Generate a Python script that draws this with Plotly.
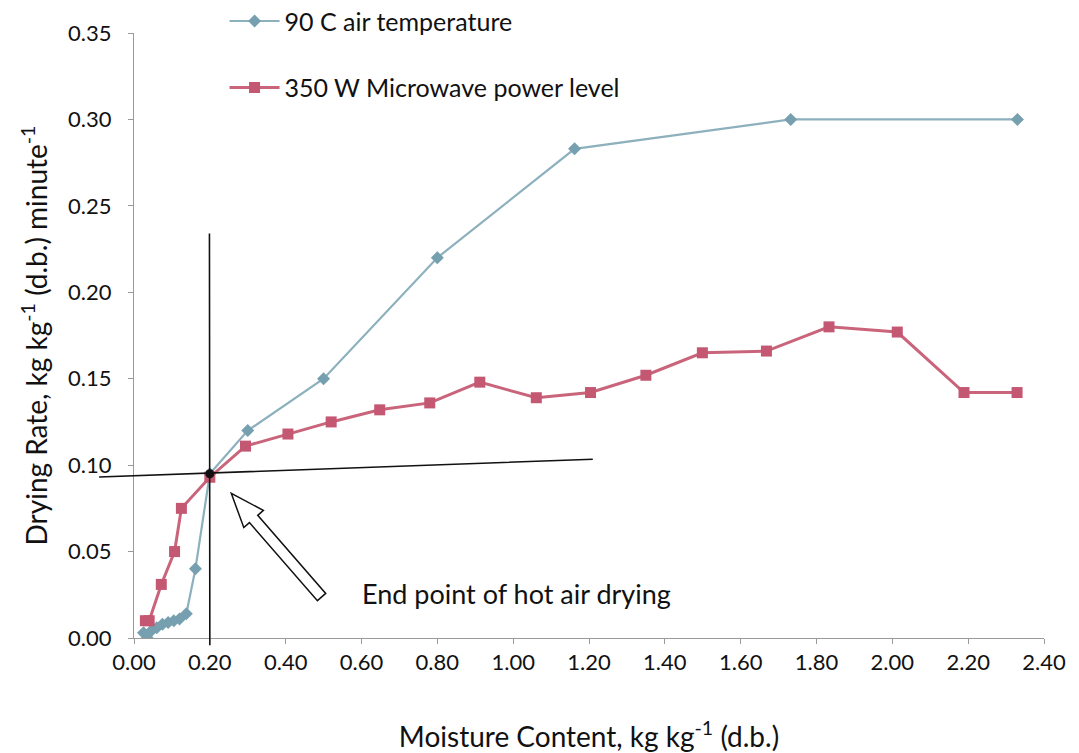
import math
import plotly.graph_objects as go

# Drying rate vs moisture content (dry basis)
air_mc = [0.025, 0.035, 0.045, 0.06, 0.075, 0.09, 0.105, 0.12, 0.138, 0.162,
          0.20, 0.30, 0.50, 0.80, 1.162, 1.732, 2.33]
air_rate = [0.003, 0.000, 0.004, 0.006, 0.008, 0.009, 0.010, 0.011, 0.014, 0.040,
            0.095, 0.120, 0.150, 0.220, 0.283, 0.300, 0.300]

mw_mc = [0.03, 0.04, 0.072, 0.107, 0.125, 0.20, 0.294, 0.406, 0.52, 0.648, 0.78,
         0.912, 1.061, 1.204, 1.35, 1.499, 1.668, 1.833, 2.013, 2.189, 2.329]
mw_rate = [0.010, 0.010, 0.031, 0.050, 0.075, 0.093, 0.111, 0.118, 0.125, 0.132,
           0.136, 0.148, 0.139, 0.142, 0.152, 0.165, 0.166, 0.180, 0.177, 0.142, 0.142]

x_range = [0, 2.4]
y_range = [0, 0.35]

# end point of hot-air drying
end_mc, end_rate = 0.20, 0.095

W, H = 1079, 753
M = dict(l=134, r=35, t=33, b=115, autoexpand=False)
px_x = (W - M["l"] - M["r"]) / (x_range[1] - x_range[0])
px_y = (H - M["t"] - M["b"]) / (y_range[1] - y_range[0])

FONT = "Lato"
INK = "#111111"

fig = go.Figure()
fig.add_trace(go.Scatter(
    x=air_mc, y=air_rate, mode="lines+markers", name="90 C air temperature",
    line=dict(color="#8DB0BD", width=2.2),
    marker=dict(symbol="diamond", size=10, color="#76A0AF"),
    legendgroup="a",
))
fig.add_trace(go.Scatter(
    x=mw_mc, y=mw_rate, mode="lines+markers", name="350 W Microwave power level",
    line=dict(color="#C9647B", width=3),
    marker=dict(symbol="square", size=11, color="#C45772"),
    legendgroup="b",
))
fig.add_trace(go.Scatter(
    x=[end_mc], y=[end_rate], mode="markers", showlegend=False,
    marker=dict(size=9, color=INK),
))

annotations = []
# thin guide lines crossing at the end point (drawn as unclipped arrows)
for (x0, y0, x1, y1) in [(-0.096, 0.0931, 1.21, 0.1034),
                         (0.2, -0.005, 0.199, 0.234)]:
    annotations.append(dict(
        x=x1, y=y1, ax=x0, ay=y0, xref="x", yref="y", axref="x", ayref="y",
        text="", showarrow=True, arrowhead=0, arrowwidth=1.6,
        arrowcolor=INK, standoff=0, startstandoff=0,
    ))

annotations.append(dict(
    x=0.595, y=0.026, xref="x", yref="y", xanchor="left", yanchor="middle",
    text="End point of hot air drying", showarrow=False,
    font=dict(family=FONT, size=27, color=INK),
))

# hollow block arrow pointing at the end point
tip = (0.2565, 0.0837)
tail = (0.4947, 0.0237)
tx, ty = tip[0] * px_x, -tip[1] * px_y
sx, sy = tail[0] * px_x, -tail[1] * px_y
L = math.hypot(sx - tx, sy - ty)
ux, uy = (sx - tx) / L, (sy - ty) / L
nx, ny = -uy, ux
head_len, head_half, shaft_half = 34, 13, 5.5
pts = [
    (0, 0),
    (head_len, head_half),
    (head_len, shaft_half),
    (L, shaft_half),
    (L, -shaft_half),
    (head_len, -shaft_half),
    (head_len, -head_half),
]
path = ""
for i, (a, b) in enumerate(pts):
    X = tx + a * ux + b * nx
    Y = ty + a * uy + b * ny
    path += ("M" if i == 0 else "L") + f"{X / px_x:.5f},{-Y / px_y:.5f}"
path += "Z"

fig.update_layout(
    width=W, height=H, margin=M,
    paper_bgcolor="white", plot_bgcolor="white",
    font=dict(family=FONT, color=INK),
    shapes=[dict(type="path", path=path, xref="x", yref="y",
                 line=dict(color=INK, width=1.5), fillcolor="white")],
    annotations=annotations,
    legend=dict(
        x=0.0995, y=1.0574, xanchor="left", yanchor="top",
        font=dict(family=FONT, size=25, color=INK),
        bgcolor="rgba(0,0,0,0)", tracegroupgap=31, traceorder="grouped",
        itemwidth=50,
    ),
    xaxis=dict(
        range=x_range, dtick=0.2, tick0=0, tickformat=".2f",
        showgrid=False, zeroline=False, showline=True,
        linecolor="#9A9A9A", linewidth=1, automargin=False,
        ticks="outside", ticklen=5, tickcolor="#9A9A9A",
        tickfont=dict(family=FONT, size=22, color=INK),
        title=dict(text="Moisture Content, kg kg<sup>-1</sup> (d.b.)",
                   font=dict(family=FONT, size=28, color=INK), standoff=59),
    ),
    yaxis=dict(
        range=y_range, dtick=0.05, tick0=0, tickformat=".2f",
        showgrid=False, zeroline=False, showline=True,
        linecolor="#9A9A9A", linewidth=1, automargin=False,
        ticks="outside", ticklen=5, tickcolor="#9A9A9A", ticklabelstandoff=12,
        tickfont=dict(family=FONT, size=22, color=INK),
        title=dict(text="Drying Rate, kg kg<sup>-1</sup> (d.b.) minute<sup>-1</sup>",
                   font=dict(family=FONT, size=28, color=INK), standoff=12),
    ),
)

fig.write_html("out.html")
